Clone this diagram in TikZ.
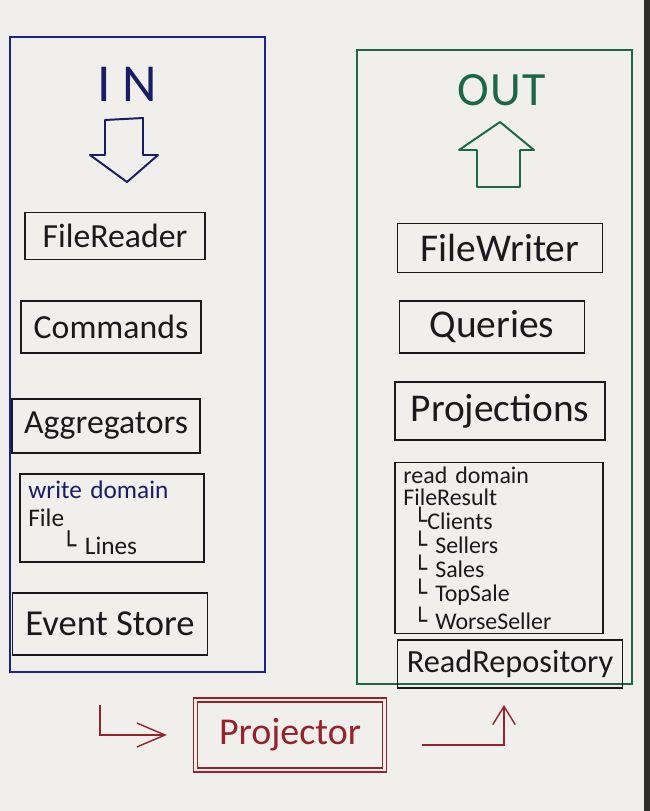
\documentclass[tikz,border=0pt]{standalone}
\usepackage{fontspec}
\setmainfont{Carlito}
\newfontfamily\treefont{DejaVu Sans}
\usetikzlibrary{arrows.meta,positioning}

\definecolor{paper}{RGB}{241,239,235}
\definecolor{ink}{RGB}{25,25,30}
\definecolor{inBlue}{RGB}{28,36,140}
\definecolor{inNavy}{RGB}{25,30,100}
\definecolor{outGreen}{RGB}{28,104,68}
\definecolor{projRed}{RGB}{150,34,44}
\definecolor{edgeDark}{RGB}{45,45,45}

\newcommand{\treeL}{{\treefont └}}

\tikzstyle{outerbox} = [rectangle, draw, line width=1.8pt, inner sep=0pt]
\tikzstyle{block} = [rectangle, draw=ink, line width=0.9pt, inner sep=0pt, text=ink, font=\fontsize{24}{28}\selectfont]
\tikzstyle{domainbox} = [rectangle, draw=ink, line width=0.9pt, inner xsep=6pt, inner ysep=3pt, align=left, text=ink]
\tikzstyle{arrow} = [draw=projRed, line width=1pt, ->, >={Straight Barb[length=13pt,width=16pt]}]

\begin{document}
\begin{tikzpicture}[x=0.025cm, y=-0.025cm]
\fill [paper] (0,0) rectangle (650,811);
\useasboundingbox (0,0) rectangle (650,811);
\fill [edgeDark] (644,0) rectangle (650,811);

% IN side
\node (inBox) [outerbox, draw=inBlue, minimum width=181.4pt, minimum height=451.7pt] at (137.5,354.5) {};
\node (inLabel) [text=inNavy, font=\fontsize{38}{42}\selectfont] at (127,84) {I\kern8pt N};
\draw [inNavy, line width=1.4pt, line join=round] (105,120) -- (143,118) -- (143,155) -- (158,155) -- (127,182) -- (90,155) -- (105,155) -- cycle;

\node (fileReader) [block, minimum width=128pt, minimum height=33pt] at (115,236) {FileReader};
\node (commands) [block, minimum width=128pt, minimum height=37pt] at (111,327) {Commands};
\node (aggregators) [block, minimum width=133.7pt, minimum height=38.4pt] at (106,426) {Aggregators};
\node (writeDomain) [domainbox, text width=119pt, minimum height=62.6pt, font=\fontsize{18}{20}\selectfont] at (112,518)
  {{\color{inNavy}write domain}\\File\\\hspace*{1.3em}\treeL\ Lines};
\node (eventStore) [block, minimum width=138.7pt, minimum height=44.1pt, font=\fontsize{26}{30}\selectfont] at (110,624) {Event Store};

% OUT side
\node (outBox) [outerbox, draw=outGreen, minimum width=195.6pt, minimum height=451pt] at (494.5,367) {};
\node (outLabel) [text=outGreen, font=\fontsize{34}{38}\selectfont] at (502,90) {O\kern1pt U\kern1pt T};
\draw [outGreen, line width=1.4pt, line join=round] (500,122) -- (534,150) -- (520,150) -- (520,187) -- (477,187) -- (477,150) -- (459,150) -- cycle;

\node (fileWriter) [block, minimum width=145.8pt, minimum height=35pt, font=\fontsize{28}{32}\selectfont] at (500,248) {FileWriter};
\node (queries) [block, minimum width=131.6pt, minimum height=37pt, font=\fontsize{28}{32}\selectfont] at (492,327) {Queries};
\node (projections) [block, minimum width=149.4pt, minimum height=41.3pt, font=\fontsize{28}{32}\selectfont] at (500,411) {Projections};
\node (readDomain) [domainbox, text width=136pt, minimum height=120.2pt, font=\fontsize{17}{16}\selectfont] at (499,548)
  {read domain\\FileResult\\\hspace*{0.4em}\treeL Clients\\\hspace*{0.4em}\treeL\ Sellers\\\hspace*{0.4em}\treeL\ Sales\\\hspace*{0.4em}\treeL\ TopSale\\\hspace*{0.4em}\treeL\ WorseSeller};
\node (readRepository) [block, minimum width=160pt, minimum height=34.1pt, font=\fontsize{23}{27}\selectfont] at (510,664) {ReadRepository};

% projector between the two sides
\node (projector) [block, draw=projRed, text=projRed, double=paper, double distance=2pt, line width=0.8pt, minimum width=134.4pt, minimum height=49.8pt, font=\fontsize{27}{31}\selectfont] at (290,735) {Projector};

\coordinate (inTail) at (100,705);
\coordinate (outTip) at (504,705);
\draw [arrow, >={Straight Barb[length=20pt,width=17pt]}, shorten >=20pt] (inTail) |- (projector.west);
\draw [arrow, shorten <=26pt] ([yshift=-0.25cm]projector.east) -| (outTip);
\end{tikzpicture}
\end{document}
